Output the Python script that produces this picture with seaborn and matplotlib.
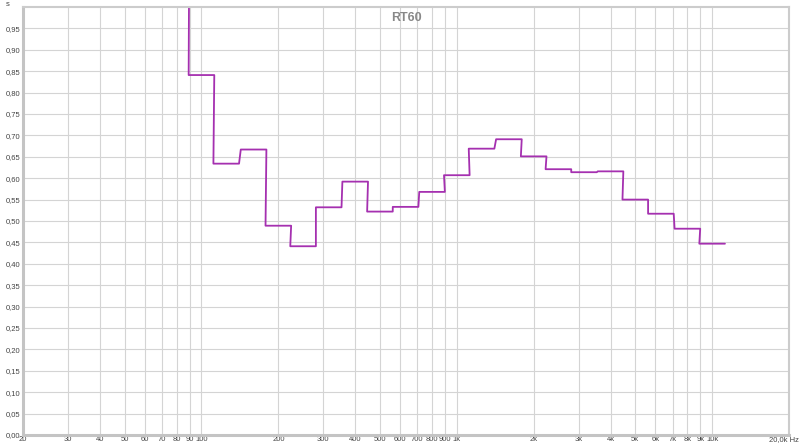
import numpy as np
import pandas as pd
import seaborn as sns
import matplotlib.pyplot as plt
from matplotlib.ticker import FixedLocator, NullLocator
from matplotlib.transforms import ScaledTranslation

# 1/3-octave band centres (Hz) and RT60 (s)
band_centres = [80, 100, 125, 160, 200, 250, 315, 400, 500, 630, 800,
                1000, 1250, 1600, 2000, 2500, 3150, 4000, 5000, 6300, 8000, 10000]
rt60 = [1.30, 0.841, 0.634, 0.667, 0.489, 0.441, 0.532, 0.592, 0.522, 0.533, 0.568,
        0.607, 0.669, 0.691, 0.651, 0.621, 0.614, 0.616, 0.550, 0.517, 0.482, 0.447]

x_ticks = [20, 30, 40, 50, 60, 70, 80, 90, 100, 200, 300, 400, 500, 600, 700, 800, 900,
           1000, 2000, 3000, 4000, 5000, 6000, 7000, 8000, 9000, 10000, 20000]
x_labels = ['20', '30', '40', '50', '60', '70', '80', '90', '100', '200', '300', '400',
            '500', '600', '700', '800', '900', '1k', '2k', '3k', '4k', '5k', '6k', '7k',
            '8k', '9k', '10k', '20,0k Hz']
y_ticks = [round(0.05 * i, 2) for i in range(20)]

# Build step table: each band spans centre/2^(1/6) .. centre*2^(1/6)
centres = np.array(band_centres, dtype=float)
lo = centres / 2 ** (1 / 6)
hi = centres * 2 ** (1 / 6)
df = pd.DataFrame({
    'freq': np.column_stack([lo, hi]).ravel(),
    'rt60': np.repeat(rt60, 2),
})

sns.set_style('white')
plt.rcParams['font.family'] = ['Liberation Sans', 'DejaVu Sans']

fig = plt.figure(figsize=(8, 4.47), dpi=100)
ax = fig.add_axes([23 / 800, 12 / 447, 766 / 800, 428 / 447])

sns.lineplot(data=df, x='freq', y='rt60', ax=ax, color='#a530b0', linewidth=1.3,
             sort=False, estimator=None)

ax.set_xscale('log')
ax.set_xlim(20, 20000)
ax.set_ylim(0, 1.0)

ax.xaxis.set_major_locator(FixedLocator(x_ticks))
ax.xaxis.set_minor_locator(NullLocator())
ax.set_xticklabels(x_labels)
ax.set_yticks(y_ticks)
ax.set_yticklabels([f'{v:.2f}'.replace('.', ',') for v in y_ticks])
ax.tick_params(axis='both', labelsize=5.5, colors='#444444', length=0, pad=2)
ax.tick_params(axis='x', pad=1)
last = ax.get_xticklabels()[-1]
last.set_horizontalalignment('right')
last.set_transform(last.get_transform() + ScaledTranslation(10 / 100, 0, fig.dpi_scale_trans))

ax.grid(True, color='#d4d4d4', linewidth=0.8)
ax.set_axisbelow(True)

for side in ['left', 'bottom']:
    ax.spines[side].set_color('#c4c4c4')
    ax.spines[side].set_linewidth(2.2)
for side in ['top', 'right']:
    ax.spines[side].set_color('#cccccc')
    ax.spines[side].set_linewidth(1.5)

ax.set_xlabel('')
ax.set_ylabel('')
ax.text(0.5, 0.988, 'RT60', transform=ax.transAxes, ha='center', va='top',
        fontsize=9, fontweight='bold', color='#888888')
fig.text(8 / 800, 1 - 4 / 447, 's', ha='center', va='center', fontsize=5.5, color='#444444')

fig.savefig('out.png', dpi=100)
